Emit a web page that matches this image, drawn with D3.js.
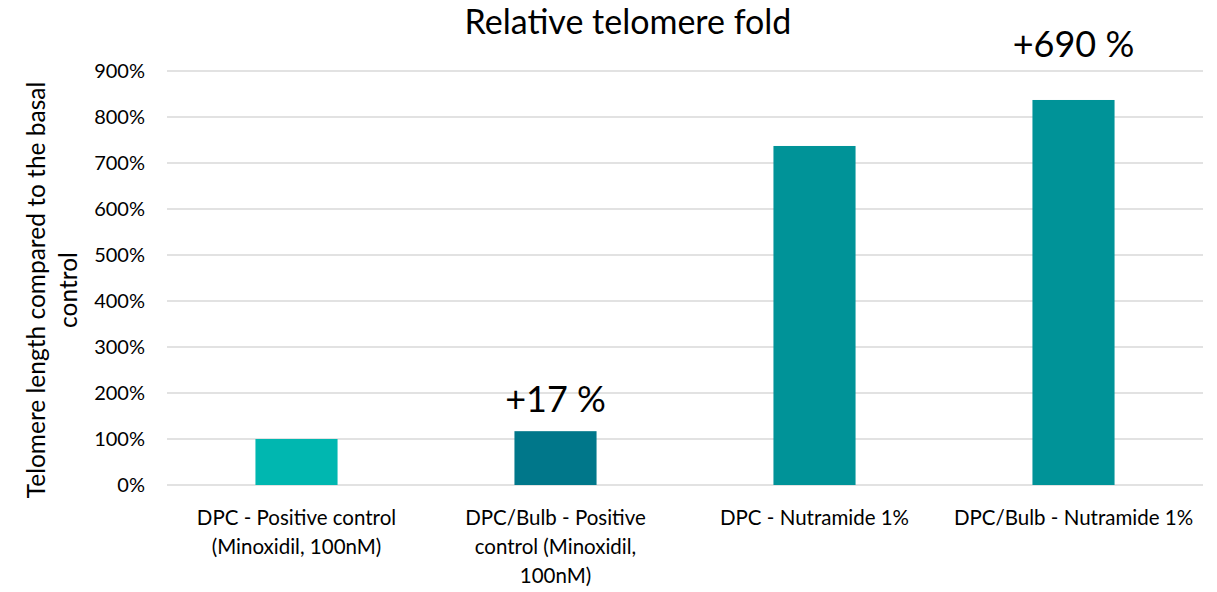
<!DOCTYPE html>
<html lang="en">
<head>
    <meta charset="UTF-8">
    <title>Relative telomere fold</title>
    <script src="https://d3js.org/d3.v7.min.js"></script>
    <style>
        body { margin: 0; background: #fff; }
        svg text { font-family: Lato, "Open Sans", sans-serif; fill: #000; }
    </style>
</head>
<body>
    <svg width="1217" height="592"></svg>
    <script>
        const categories = [
            ['DPC - Positive control', '(Minoxidil, 100nM)'],
            ['DPC/Bulb - Positive', 'control (Minoxidil,', '100nM)'],
            ['DPC - Nutramide 1%'],
            ['DPC/Bulb - Nutramide 1%']
        ];
        const values = [100, 117, 737, 837];
        const barColors = ['#00b7b0', '#00778a', '#009398', '#009398'];
        const annotations = ['', '+17 %', '', '+690 %'];
        const yTicks = [0, 100, 200, 300, 400, 500, 600, 700, 800, 900];

        (function () {
            const svg = d3.select('svg');
            const plotLeft = 167, plotRight = 1203, plotTop = 71, plotBottom = 485;

            const x = d3.scaleBand()
                .domain(d3.range(values.length))
                .range([plotLeft, plotRight])
                .paddingInner(0.683)
                .paddingOuter(0.3415);
            const y = d3.scaleLinear().domain([0, 900]).range([plotBottom, plotTop]);

            // gridlines
            svg.append('g').selectAll('line')
                .data(yTicks)
                .enter().append('line')
                .attr('x1', plotLeft).attr('x2', plotRight)
                .attr('y1', d => y(d)).attr('y2', d => y(d))
                .attr('stroke', '#d9d9d9').attr('stroke-width', 1.3);

            // y tick labels
            svg.append('g').selectAll('text')
                .data(yTicks)
                .enter().append('text')
                .attr('x', 145).attr('y', d => y(d))
                .attr('dy', '0.36em')
                .attr('text-anchor', 'end')
                .attr('font-size', 20)
                .text(d => d + '%');

            // bars
            svg.append('g').selectAll('rect')
                .data(values)
                .enter().append('rect')
                .attr('x', (d, i) => x(i))
                .attr('width', x.bandwidth())
                .attr('y', d => y(d))
                .attr('height', d => plotBottom - y(d))
                .attr('fill', (d, i) => barColors[i]);

            // category labels
            const cat = svg.append('g').selectAll('text')
                .data(categories)
                .enter().append('text')
                .attr('text-anchor', 'middle')
                .attr('font-size', 20.5);
            cat.selectAll('tspan')
                .data((d, i) => d.map(t => ({ t, i })))
                .enter().append('tspan')
                .attr('x', d => x(d.i) + x.bandwidth() / 2)
                .attr('y', (d, j) => 525 + j * 29)
                .text(d => d.t);

            // annotations above bars
            svg.append('g').selectAll('text')
                .data(values)
                .enter().append('text')
                .attr('x', (d, i) => x(i) + x.bandwidth() / 2)
                .attr('y', (d, i) => i === 3 ? 57 : y(d) - 19)
                .attr('text-anchor', 'middle')
                .attr('font-size', 36)
                .text((d, i) => annotations[i]);

            // title
            svg.append('text')
                .attr('x', 628).attr('y', 34)
                .attr('text-anchor', 'middle')
                .attr('font-size', 34)
                .text('Relative telomere fold');

            // y axis title
            const yt = svg.append('text')
                .attr('transform', 'translate(0,290) rotate(-90)')
                .attr('text-anchor', 'middle')
                .attr('font-size', 24.5);
            yt.append('tspan').attr('x', 0).attr('y', 45).text('Telomere length compared to the basal');
            yt.append('tspan').attr('x', 0).attr('y', 77).text('control');
        })();
    </script>
</body>
</html>
